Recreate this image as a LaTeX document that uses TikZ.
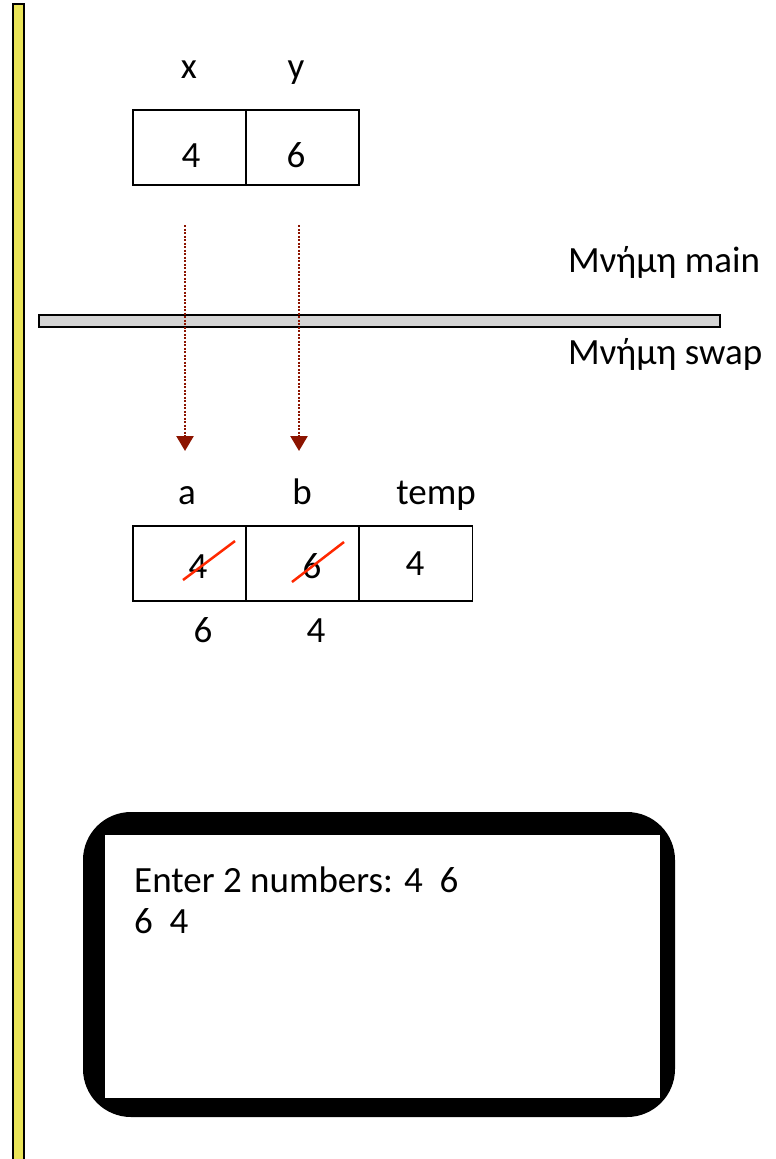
\documentclass[tikz,border=0pt]{standalone}
\usepackage{fontspec}
\setmainfont{Carlito}
\usetikzlibrary{arrows.meta}
\definecolor{baryellow}{RGB}{234,228,88}
\definecolor{bargray}{RGB}{212,212,212}
\definecolor{passred}{RGB}{140,20,0}
\definecolor{strike}{RGB}{255,40,0}
\tikzset{
  txt/.style={inner sep=0pt, anchor=base, font=\fontsize{37}{42}\selectfont},
  cell/.style={draw, line width=1.5pt, minimum width=113pt, minimum height=75pt, inner sep=0pt},
  pass/.style={passred, line width=2.5pt, dash pattern=on 2pt off 1.5pt, -{Triangle[width=17pt,length=15pt,sep=0pt]}},
  crossout/.style={strike, line width=2.5pt},
}
\begin{document}
\begin{tikzpicture}[x=1pt,y=-1pt]
\useasboundingbox (0,0) rectangle (776,1159);

% left yellow stripe
\draw[fill=baryellow, line width=1.5pt] (13,4) rectangle (24,1165);

% variables of main
\node[txt] (lx) at (189,78) {x};
\node[txt] (ly) at (296,78) {y};
\node[cell] (bx) at (189.5,147.5) {};
\node[cell] (by) at (302.5,147.5) {};
\node[txt] (vx) at (191,167) {4};
\node[txt] (vy) at (296,167) {6};

% divider between the two memories
\draw[fill=bargray, line width=1.5pt] (39,315) rectangle (720,327);
\node[txt, anchor=base west] (mmain) at (568,272) {Μνήμη main};
\node[txt, anchor=base west] (mswap) at (568,364) {Μνήμη swap};

% values passed to swap
\coordinate (px1) at (185,225);
\coordinate (pa1) at (185,451);
\coordinate (px2) at (299,225);
\coordinate (pa2) at (299,451);
\draw[pass] (px1) -- (pa1);
\draw[pass] (px2) -- (pa2);

% variables of swap
\node[txt] (la) at (187,504) {a};
\node[txt] (lb) at (302,504) {b};
\node[txt] (lt) at (436,504) {temp};
\node[cell] (ba) at (189.5,563.5) {};
\node[cell] (bb) at (302.5,563.5) {};
\node[cell] (bt) at (416,563.5) {};
\node[txt] (va) at (198,578) {4};
\node[txt] (vb) at (312,578) {6};
\node[txt] (vt) at (415,575) {4};
\coordinate (sa1) at (183,580);
\coordinate (sa2) at (235,541);
\coordinate (sb1) at (292,582);
\coordinate (sb2) at (344,542);
\draw[crossout] (sa1) -- (sa2);
\draw[crossout] (sb1) -- (sb2);
\node[txt] (na) at (203,642) {6};
\node[txt] (nb) at (316,642) {4};

% console window
\fill[black, rounded corners=48pt] (83,812) rectangle (675,1117);
\fill[white] (105,835) rectangle (660,1098);
\node[txt, anchor=base west] (out1) at (134,892) {Enter 2 numbers: 4\ \ 6};
\node[txt, anchor=base west] (out2) at (134,933) {6\ \ 4};
\end{tikzpicture}
\end{document}
